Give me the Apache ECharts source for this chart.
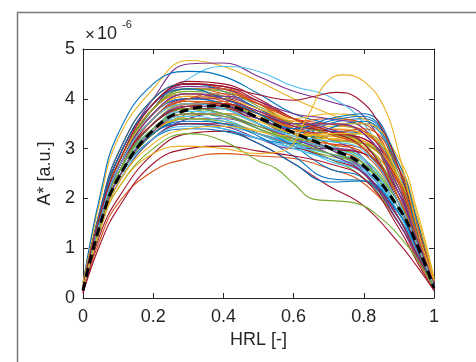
<!DOCTYPE html>
<html><head><meta charset="utf-8">
<script src="https://cdn.jsdelivr.net/npm/echarts@6/dist/echarts.min.js"></script>
<style>html,body{margin:0;padding:0;background:#fff}#c{width:476px;height:362px}</style>
</head><body><div id="c"></div>
<script>
// Normalised position along HRL (shared sample grid for the ordinary curves)
const hrl = [0, 0.05, 0.1, 0.2, 0.3, 0.4, 0.5, 0.6, 0.7, 0.8, 0.9, 0.95, 1];
// Individual curves, A* in units of 1e-6
const curves = [
  [0.2,1.7,2.7,3.8,4.1,4.0,3.7,3.4,3.35,3.3,2.3,1.3,0.3],
  [0.1,1.2,1.9,2.55,2.8,2.9,2.85,2.8,2.6,2.3,1.5,0.8,0.2],
  [0.3,2.0,3.2,4.2,4.77,4.65,4.35,4.0,3.7,3.4,2.4,1.4,0.3],
  [0.2,1.8,2.8,4.0,4.7,4.72,4.45,4.15,3.95,3.65,2.3,1.3,0.3],
  [0.2,1.5,2.4,3.3,3.6,3.5,3.3,3.1,3.0,2.8,1.9,1.1,0.2],
  [0.2,1.7,2.6,3.8,4.4,4.65,4.55,4.25,4.05,3.5,2.2,1.2,0.3],
  [0.2,1.7,2.7,3.8,4.1,4.0,3.75,3.5,3.3,3.0,2.0,1.1,0.25],
  [0.3,2.1,3.3,4.3,4.55,4.45,4.1,3.7,3.5,3.3,2.1,1.2,0.25],
  [0.2,1.6,2.6,3.7,4.05,3.95,3.6,3.2,3.1,3.0,2.2,1.3,0.3],
  [0.2,1.6,2.6,3.6,3.9,3.85,3.65,3.45,3.45,3.35,2.6,1.6,0.35],
  [0.2,1.5,2.4,3.3,3.6,3.6,3.4,3.1,2.9,2.6,1.6,0.9,0.2],
  [0.2,1.6,2.5,3.5,3.9,3.9,3.6,3.3,3.2,3.0,2.0,1.1,0.2],
  [0.15,1.4,2.3,3.2,3.5,3.45,3.3,3.1,2.9,2.6,1.7,1.0,0.2],
  [0.1,1.3,2.0,2.9,3.3,3.35,3.1,2.7,2.25,1.85,1.1,0.65,0.15],
  [0.2,1.5,2.4,3.2,3.4,3.35,3.1,2.7,2.33,2.35,1.7,1.0,0.2],
  [0.2,1.7,2.8,3.9,4.2,4.1,3.8,3.5,3.4,3.3,2.3,1.3,0.3],
  [0.25,1.6,2.5,3.5,3.85,3.9,3.7,3.5,3.3,3.1,2.5,1.5,0.35],
  [0.2,1.6,2.6,3.7,4.1,4.05,3.8,3.45,3.2,2.8,1.6,0.9,0.2],
  [0.2,1.5,2.4,3.3,3.7,3.8,3.7,3.4,3.1,2.7,1.7,1.0,0.2],
  [0.2,1.6,2.5,3.4,3.6,3.5,3.3,3.15,3.05,2.8,1.8,1.0,0.2],
  [0.2,1.7,2.7,3.8,4.35,4.3,4.0,3.6,3.3,3.2,2.3,1.2,0.3],
  [0.2,1.6,2.6,3.7,4.0,3.9,3.5,3.2,3.5,3.6,2.6,1.5,0.3],
  [0.15,1.5,2.4,3.3,3.7,3.7,3.5,3.2,3.0,2.7,1.8,1.0,0.2],
  [0.3,1.8,2.9,4.0,4.3,4.2,3.9,3.6,3.7,3.6,2.7,1.7,0.4],
  [0.2,1.5,2.4,3.3,3.5,3.45,3.2,3.0,3.0,2.9,2.0,1.1,0.25],
  [0.2,1.7,2.7,3.8,4.15,4.05,3.7,3.3,3.0,2.5,1.5,0.9,0.2],
  [0.15,1.5,2.4,3.3,3.65,3.7,3.5,3.2,2.9,2.5,1.6,0.95,0.2],
  [0.2,1.6,2.5,3.6,4.0,4.0,3.7,3.4,3.2,3.1,2.3,1.3,0.25],
  [0.2,1.6,2.5,3.5,3.8,3.7,3.4,3.05,2.6,2.4,1.6,1.0,0.2],
  [0.25,1.8,2.9,4.0,4.3,4.2,3.9,3.55,3.6,3.5,2.4,1.4,0.3],
  [0.2,1.5,2.4,3.3,3.6,3.55,3.35,3.2,3.2,3.1,2.3,1.3,0.3],
  [0.2,1.7,2.8,3.9,4.25,4.2,3.95,3.7,3.6,3.4,2.2,1.2,0.35],
  [0.15,1.5,2.4,3.4,3.8,3.8,3.5,3.1,2.8,2.4,1.5,0.85,0.2],
  [0.2,1.6,2.5,3.5,3.75,3.6,3.3,3.0,2.8,2.6,1.7,1.0,0.2],
  [0.2,1.6,2.6,3.6,3.9,3.85,3.6,3.35,3.3,3.2,2.0,1.1,0.25],
  [0.2,1.8,2.9,4.0,4.3,4.15,3.8,3.5,3.5,3.5,2.5,1.4,0.3],
  [0.2,1.5,2.4,3.4,3.8,3.9,3.7,3.4,3.1,2.9,1.9,1.0,0.2],
  [0.2,1.6,2.6,3.6,3.9,3.8,3.55,3.35,3.4,3.3,2.6,1.6,0.35],
  [0.15,1.4,2.3,3.2,3.6,3.7,3.6,3.3,3.0,2.55,1.5,0.9,0.2],
  [0.2,1.6,2.6,3.6,3.95,3.9,3.6,3.3,3.25,3.3,2.4,1.3,0.3],
  [0.2,1.5,2.4,3.4,3.75,3.7,3.4,3.1,2.75,2.5,1.6,0.9,0.2],
  [0.2,1.6,2.6,3.5,3.8,3.8,3.5,3.2,3.0,2.9,2.1,1.2,0.3],
  [0.2,1.5,2.4,3.3,3.5,3.4,3.2,3.1,3.4,3.55,2.6,1.5,0.3],
  [0.2,1.6,2.5,3.5,3.9,3.95,3.75,3.5,3.3,3.15,2.3,1.4,0.3],
  [0.2,1.7,2.7,3.8,4.1,4.0,3.7,3.4,3.2,3.05,2.2,1.2,0.25],
  [0.2,1.6,2.6,3.6,4.0,4.05,3.9,3.6,3.4,3.1,1.9,1.1,0.3],
  [0.15,1.5,2.4,3.3,3.6,3.55,3.3,3.05,2.85,2.65,1.8,1.0,0.2],
  [0.2,1.6,2.5,3.5,3.85,3.8,3.5,3.2,3.0,2.75,1.7,1.0,0.2],
  [0.15,1.5,2.3,3.2,3.5,3.5,3.3,3.05,2.8,2.5,1.6,0.9,0.2],
  [0.2,1.7,2.7,3.7,4.0,3.9,3.6,3.3,3.55,3.65,2.5,1.4,0.3],
  [0.2,1.7,2.7,3.8,4.2,4.2,3.9,3.6,3.5,3.35,2.35,1.3,0.3],
  [0.2,1.5,2.4,3.3,3.65,3.7,3.55,3.3,3.25,3.15,2.4,1.5,0.35],
  [0.2,1.6,2.5,3.5,3.85,3.85,3.6,3.4,3.5,3.3,2.1,1.2,0.3],
  [0.2,1.7,2.7,3.8,4.2,4.15,3.85,3.5,3.3,3.1,2.0,1.1,0.25],
  [0.15,1.4,2.3,3.2,3.45,3.4,3.2,3.0,2.8,2.55,1.7,1.0,0.2],
  [0.2,1.7,2.8,3.9,4.3,4.25,3.95,3.6,3.35,3.0,1.9,1.0,0.25],
  [0.2,1.5,2.4,3.3,3.55,3.5,3.25,2.85,2.4,2.35,1.7,1.0,0.2],
  [0.2,1.6,2.6,3.6,3.95,3.9,3.7,3.4,3.3,3.4,2.6,1.5,0.3],
  [0.25,1.7,2.7,3.7,4.05,4.0,3.8,3.55,3.5,3.5,2.8,1.8,0.4],
  [0.2,1.5,2.4,3.35,3.7,3.65,3.45,3.2,2.9,2.5,1.5,0.85,0.2],
  [0.2,1.6,2.5,3.5,3.8,3.7,3.45,3.2,3.15,3.1,2.2,1.2,0.25],
  [0.2,1.6,2.5,3.4,3.65,3.55,3.3,3.05,2.9,2.7,1.8,1.1,0.25],
  [0.2,1.6,2.6,3.5,3.85,3.9,3.7,3.45,3.35,3.1,1.9,1.05,0.25],
  [0.2,1.7,2.8,3.9,4.2,4.0,3.7,3.4,3.6,3.7,2.7,1.6,0.3],
  [0.2,1.6,2.6,3.6,4.0,4.1,3.9,3.6,3.3,3.0,2.0,1.1,0.25],
  [0.2,1.4,2.3,3.1,3.4,3.45,3.35,3.25,3.3,3.3,2.5,1.5,0.35],
  [0.2,1.6,2.6,3.7,4.1,4.0,3.75,3.5,3.5,3.3,2.2,1.2,0.3],
  [0.2,1.5,2.5,3.4,3.7,3.65,3.4,3.15,2.9,2.7,1.9,1.1,0.25],
  [0.2,1.6,2.6,3.6,3.9,3.8,3.5,3.25,3.15,2.95,1.9,1.1,0.25],
  [0.1,1.1,1.8,2.7,3.0,3.05,2.95,2.85,2.7,2.4,1.4,0.75,0.15]
];
// Curves with distinctive late features, sampled on their own x positions
const yellowBumpX = [0,0.05,0.1,0.2,0.3,0.4,0.5,0.57,0.64,0.69,0.74,0.8,0.86,0.9,0.93,0.96,1];
const yellowBumpY = [0.2,1.4,2.2,2.9,3.05,3.0,2.9,2.95,3.65,4.3,4.48,4.35,3.8,2.9,2.05,1.2,0.35];
const redBumpX = [0,0.05,0.1,0.2,0.3,0.4,0.5,0.6,0.66,0.72,0.78,0.85,0.9,0.95,1];
const redBumpY = [0.2,1.7,2.7,3.9,4.3,4.25,4.08,3.97,4.05,4.13,4.02,3.43,2.6,1.5,0.3];
const greenLowX = [0,0.05,0.1,0.2,0.3,0.4,0.5,0.55,0.6,0.66,0.72,0.78,0.85,0.9,0.95,1];
const greenLowY = [0.2,1.4,2.2,3.0,3.3,3.15,2.75,2.6,2.3,1.98,1.95,1.9,1.6,1.25,0.8,0.2];
// Mean curve (black dashed)
const meanCurve = [0.15,1.5,2.4,3.37,3.78,3.86,3.62,3.32,3.02,2.65,1.8,1.1,0.2];
const xTickValues = [0, 0.2, 0.4, 0.6, 0.8, 1];
const yTickValues = [0, 1, 2, 3, 4, 5];

const palette = ['#0072BD','#D95319','#EDB120','#7E2F8E','#77AC30','#4DBEEE','#A2142F'];
const axisCol = '#262626';
const font = '"Liberation Sans", Arial, Helvetica, sans-serif';

const zip = (xs, ys) => ys.map((y, i) => [xs[i], y]);
const lineSeries = (data, color) => ({
  type: 'line', data: data, smooth: 0.45, symbol: 'none',
  lineStyle: { width: 1.1, color: color }, emphasis: { disabled: true }, z: 2
});

const series = curves.map((c, i) => lineSeries(zip(hrl, c), palette[i % palette.length]));
series.push(lineSeries(zip(greenLowX, greenLowY), palette[4]));
series.push(lineSeries(zip(redBumpX, redBumpY), palette[6]));
series.push(lineSeries(zip(yellowBumpX, yellowBumpY), palette[2]));
series.push({
  type: 'line', data: zip(hrl, meanCurve), smooth: 0.45, symbol: 'none',
  lineStyle: { width: 3, color: '#000', type: [9, 5] }, z: 5
});

const chart = echarts.init(document.getElementById('c'), null, { renderer: 'canvas' });
const xBase = { type: 'value', min: 0, max: 1, interval: 0.2,
  splitLine: { show: false },
  axisLine: { show: true, onZero: false, lineStyle: { color: axisCol, width: 1 } },
  axisTick: { show: true, inside: true, length: 5, lineStyle: { color: axisCol } } };
const yBase = { type: 'value', min: 0, max: 5, interval: 1,
  splitLine: { show: false },
  axisLine: { show: true, onZero: false, lineStyle: { color: axisCol, width: 1 } },
  axisTick: { show: true, inside: true, length: 5, lineStyle: { color: axisCol } } };

chart.setOption({
  animation: false,
  color: palette,
  title: [
    { text: '\u00d7', left: 85, top: 27, padding: 0,
      textStyle: { fontSize: 17, fontWeight: 'lighter', color: axisCol, fontFamily: font } },
    { text: '10', left: 97, top: 25, padding: 0,
      textStyle: { fontSize: 18, fontWeight: 'normal', color: axisCol, fontFamily: font } },
    { text: '-6', left: 122, top: 19, padding: 0,
      textStyle: { fontSize: 11, fontWeight: 'normal', color: axisCol, fontFamily: font } }
  ],
  grid: { left: 83, right: 42, top: 49, bottom: 64, containLabel: false },
  xAxis: [
    Object.assign({}, xBase, { position: 'bottom',
      axisLabel: { color: axisCol, fontSize: 18, fontFamily: font, margin: 10,
        formatter: v => xTickValues.includes(+(+v).toFixed(2)) ? String(+(+v).toFixed(2)) : '' },
      name: 'HRL [-]', nameLocation: 'middle', nameGap: 30,
      nameTextStyle: { color: axisCol, fontSize: 18, fontFamily: font } }),
    Object.assign({}, xBase, { position: 'top', axisLabel: { show: false } })
  ],
  yAxis: [
    Object.assign({}, yBase, { position: 'left',
      axisLabel: { color: axisCol, fontSize: 18, fontFamily: font, margin: 8,
        formatter: v => yTickValues.includes(+v) ? String(v) : '' },
      name: 'A* [a.u.]', nameLocation: 'middle', nameGap: 24,
      nameTextStyle: { color: axisCol, fontSize: 18, fontFamily: font } }),
    Object.assign({}, yBase, { position: 'right', axisLabel: { show: false } })
  ],
  series: series,
  graphic: [
    { type: 'rect', left: 15, top: 10, silent: true,
      shape: { width: 480, height: 370 },
      style: { fill: 'none', stroke: '#7a7a7a', lineWidth: 1.5 } }
  ]
});
</script>
</body></html>
